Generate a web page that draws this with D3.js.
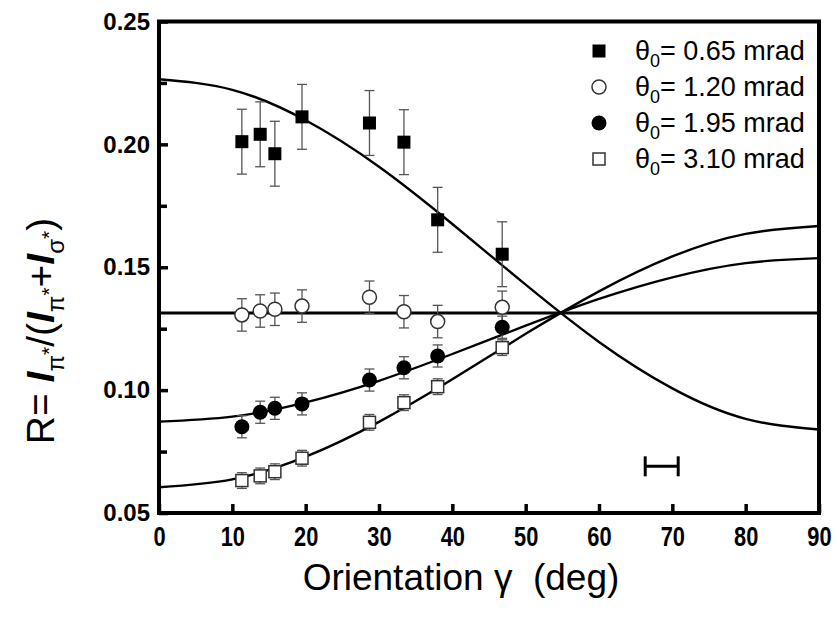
<!DOCTYPE html>
<html>
<head>
<meta charset="utf-8">
<script src="https://cdn.jsdelivr.net/npm/d3@7"></script>
<style>
  body { margin: 0; background: #fff; }
  svg { display: block; font-family: "Liberation Sans", Arial, sans-serif; }
</style>
</head>
<body>
<script>
const gamma = [11.3, 13.8, 15.8, 19.5, 28.7, 33.4, 38.0, 46.8];
const r065 = [0.2011, 0.2041, 0.1962, 0.2112, 0.2087, 0.2009, 0.1693, 0.1553];
const r120 = [0.1306, 0.1322, 0.1329, 0.1342, 0.1378, 0.1319, 0.1279, 0.1337];
const r195 = [0.0851, 0.0910, 0.0926, 0.0944, 0.1041, 0.1091, 0.1139, 0.1256];
const r310 = [0.0632, 0.0651, 0.0668, 0.0723, 0.0869, 0.0949, 0.1014, 0.1173];
const err065 = [0.0132, 0.0132, 0.0132, 0.0132, 0.0132, 0.0132, 0.0132, 0.0132];
const err120 = [0.0066, 0.0066, 0.0066, 0.0066, 0.0066, 0.0066, 0.0066, 0.0066];
const err195 = [0.0045, 0.0045, 0.0045, 0.0045, 0.0045, 0.0045, 0.0045, 0.0045];
const err310 = [0.0032, 0.0032, 0.0032, 0.0032, 0.0032, 0.0032, 0.0032, 0.0032];

// fitted curves, read every 10 deg
const curveAngles = [0, 10, 20, 30, 40, 50, 60, 70, 80, 90];
const fit065 = [0.2265, 0.2222, 0.2098, 0.1909, 0.1676, 0.1429, 0.1196, 0.1007, 0.0883, 0.0840];
const fit120 = [0.1314, 0.1314, 0.1314, 0.1314, 0.1314, 0.1314, 0.1314, 0.1314, 0.1314, 0.1314];
const fit195 = [0.0872, 0.0892, 0.0950, 0.1038, 0.1147, 0.1262, 0.1371, 0.1459, 0.1517, 0.1537];
const fit310 = [0.0605, 0.0637, 0.0729, 0.0871, 0.1044, 0.1229, 0.1402, 0.1544, 0.1636, 0.1668];

// angular resolution bar
const resCenter = 68.55;
const resHalf = 2.25;
const resLevel = 0.069;

const legendLabels = ['0.65', '1.20', '1.95', '3.10'];
const xTicks = [0, 10, 20, 30, 40, 50, 60, 70, 80, 90];
const yTicks = [0.05, 0.10, 0.15, 0.20, 0.25];
const yMinorTicks = [0.075, 0.125, 0.175, 0.225];

const svgWidth = 839;
const svgHeight = 618;
const plot = {left: 159, right: 819, top: 21.5, bottom: 513};

function draw() {

    const svg = d3.select('body')
                  .append('svg')
                  .attr('width', svgWidth)
                  .attr('height', svgHeight);

    svg.append('rect')
       .attr('width', svgWidth)
       .attr('height', svgHeight)
       .attr('fill', '#fff');

    const xScale = d3.scaleLinear()
                     .domain([0, 90])
                     .range([plot.left, plot.right]);

    const yScale = d3.scaleLinear()
                     .domain([0.05, 0.25])
                     .range([plot.bottom, plot.top]);

    // fitted lines
    const line = d3.line()
                   .x(d => xScale(d[0]))
                   .y(d => yScale(d[1]))
                   .curve(d3.curveNatural);

    [fit065, fit195, fit310].forEach(fit => {
        svg.append('path')
           .datum(curveAngles.map((a, i) => [a, fit[i]]))
           .attr('d', line)
           .attr('fill', 'none')
           .attr('stroke', '#000')
           .attr('stroke-width', 2.4);
    });
    svg.append('path')
       .datum(curveAngles.map((a, i) => [a, fit120[i]]))
       .attr('d', line)
       .attr('fill', 'none')
       .attr('stroke', '#000')
       .attr('stroke-width', 3);

    // error bars + symbols
    const series = [
        {vals: r065, errs: err065, sym: 'fsq'},
        {vals: r120, errs: err120, sym: 'ocirc'},
        {vals: r195, errs: err195, sym: 'fcirc'},
        {vals: r310, errs: err310, sym: 'osq'}
    ];

    series.forEach(s => {
        const pts = gamma.map((g, i) => ({g: g, v: s.vals[i], e: s.errs[i]}));
        const eb = svg.append('g')
                      .attr('stroke', '#555')
                      .attr('stroke-width', 1.3);
        eb.selectAll('.stem')
          .data(pts)
          .enter()
          .append('line')
          .attr('x1', d => xScale(d.g))
          .attr('x2', d => xScale(d.g))
          .attr('y1', d => yScale(d.v - d.e))
          .attr('y2', d => yScale(d.v + d.e));
        [-1, 1].forEach(sign => {
            eb.selectAll('.cap' + sign)
              .data(pts)
              .enter()
              .append('line')
              .attr('x1', d => xScale(d.g) - 5)
              .attr('x2', d => xScale(d.g) + 5)
              .attr('y1', d => yScale(d.v + sign * d.e))
              .attr('y2', d => yScale(d.v + sign * d.e));
        });
        drawSymbols(svg, pts.map(d => [xScale(d.g), yScale(d.v)]), s.sym);
    });

    // resolution bar
    const rb = svg.append('g')
                  .attr('stroke', '#000')
                  .attr('stroke-width', 3);
    rb.append('line')
      .attr('x1', xScale(resCenter - resHalf))
      .attr('x2', xScale(resCenter + resHalf))
      .attr('y1', yScale(resLevel))
      .attr('y2', yScale(resLevel));
    [-1, 1].forEach(sign => {
        rb.append('line')
          .attr('x1', xScale(resCenter + sign * resHalf))
          .attr('x2', xScale(resCenter + sign * resHalf))
          .attr('y1', yScale(resLevel) - 10)
          .attr('y2', yScale(resLevel) + 10);
    });

    // frame
    svg.append('rect')
       .attr('x', plot.left)
       .attr('y', plot.top)
       .attr('width', plot.right - plot.left)
       .attr('height', plot.bottom - plot.top)
       .attr('fill', 'none')
       .attr('stroke', '#000')
       .attr('stroke-width', 4);

    // axes
    const xAxis = d3.axisBottom(xScale)
                    .tickValues(xTicks)
                    .tickFormat(d3.format('d'))
                    .tickSizeInner(-9)
                    .tickSizeOuter(0)
                    .tickPadding(13);
    const gx = svg.append('g')
                  .attr('transform', 'translate(0,' + plot.bottom + ')')
                  .call(xAxis);
    gx.select('.domain').remove();
    gx.selectAll('line').attr('stroke-width', 3.5);
    gx.selectAll('text')
      .attr('font-size', 28)
      .attr('font-weight', 'bold')
      .attr('font-family', '"Liberation Sans", Arial, sans-serif')
      .attr('fill', '#000')
      .attr('transform', 'scale(0.78,1)');

    const yAxis = d3.axisLeft(yScale)
                    .tickValues(yTicks)
                    .tickFormat(d3.format('.2f'))
                    .tickSizeInner(-9)
                    .tickSizeOuter(0)
                    .tickPadding(9);
    const gy = svg.append('g')
                  .attr('transform', 'translate(' + plot.left + ',0)')
                  .call(yAxis);
    gy.select('.domain').remove();
    gy.selectAll('line').attr('stroke-width', 3.5);
    gy.selectAll('text')
      .attr('font-size', 24)
      .attr('font-weight', 'bold')
      .attr('font-family', '"Liberation Sans", Arial, sans-serif')
      .attr('fill', '#000');

    const yMinor = d3.axisLeft(yScale)
                     .tickValues(yMinorTicks)
                     .tickFormat('')
                     .tickSizeInner(-8)
                     .tickSizeOuter(0);
    const gym = svg.append('g')
                   .attr('transform', 'translate(' + plot.left + ',0)')
                   .call(yMinor);
    gym.select('.domain').remove();
    gym.selectAll('line').attr('stroke-width', 3.5);

    // axis titles
    svg.append('text')
       .attr('x', 461)
       .attr('y', 590)
       .attr('text-anchor', 'middle')
       .attr('font-size', 37)
       .attr('xml:space', 'preserve')
       .text('Orientation \u03b3  (deg)');

    const yl = svg.append('text')
                  .attr('transform', 'translate(54,331) rotate(-90)')
                  .attr('text-anchor', 'middle')
                  .attr('font-size', 39);
    yl.append('tspan').text('R= ');
    const parts = [['\u03c0', '*', '/('], ['\u03c0', '*', '+'], ['\u03c3', '*', ')']];
    parts.forEach(p => {
        yl.append('tspan').attr('font-weight', 'bold').attr('font-style', 'italic').text('I');
        yl.append('tspan').attr('font-size', 24).attr('dy', 10).text(p[0]);
        yl.append('tspan').attr('font-size', 21).attr('dy', -8).text(p[1]);
        yl.append('tspan').attr('dy', -2).text(p[2]);
    });

    // legend
    const legend = svg.append('g');
    const syms = ['fsq', 'ocirc', 'fcirc', 'osq'];
    legendLabels.forEach((lab, i) => {
        const cy = 51 + i * 36;
        drawSymbols(legend, [[599, cy]], syms[i]);
        const t = legend.append('text')
                        .attr('x', 635)
                        .attr('y', cy + 9)
                        .attr('font-size', 27);
        t.append('tspan').text('\u03b8');
        t.append('tspan').attr('font-size', 18).attr('dy', 7).text('0');
        t.append('tspan').attr('dy', -7).text('= ' + lab + ' mrad');
    });
}

function drawSymbols(parent, pts, sym) {
    const g = parent.append('g');
    if (sym === 'fsq' || sym === 'osq') {
        const s = sym === 'fsq' ? 13 : 12;
        g.selectAll('rect')
         .data(pts)
         .enter()
         .append('rect')
         .attr('x', d => d[0] - s / 2)
         .attr('y', d => d[1] - s / 2)
         .attr('width', s)
         .attr('height', s)
         .attr('fill', sym === 'fsq' ? '#000' : '#fff')
         .attr('stroke', sym === 'fsq' ? 'none' : '#333')
         .attr('stroke-width', 1.5);
    } else {
        g.selectAll('circle')
         .data(pts)
         .enter()
         .append('circle')
         .attr('cx', d => d[0])
         .attr('cy', d => d[1])
         .attr('r', sym === 'fcirc' ? 7.5 : 7)
         .attr('fill', sym === 'fcirc' ? '#000' : '#fff')
         .attr('stroke', sym === 'fcirc' ? 'none' : '#333')
         .attr('stroke-width', 1.5);
    }
}

draw();
</script>
</body>
</html>
